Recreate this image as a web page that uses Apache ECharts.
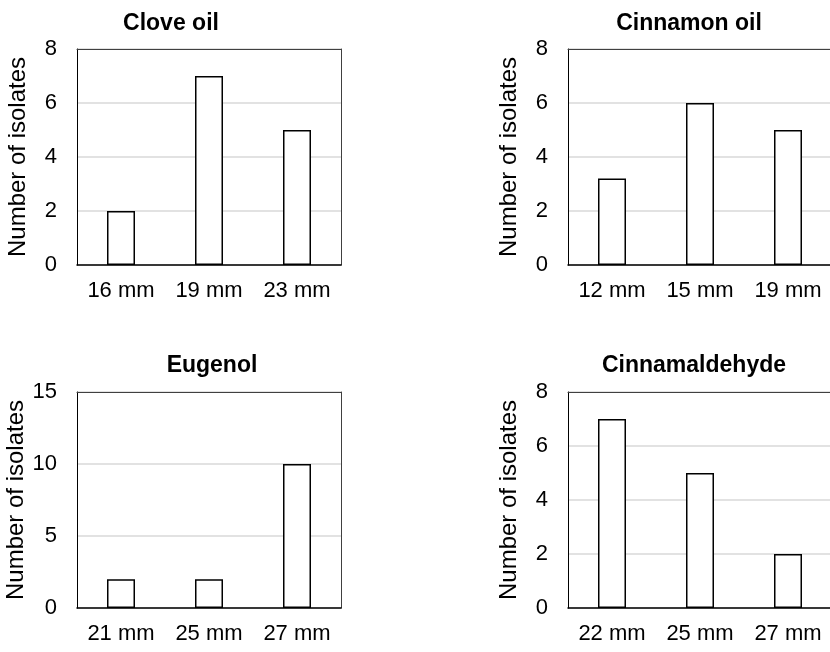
<!DOCTYPE html>
<html>
<head>
<meta charset="utf-8">
<script src="https://cdn.jsdelivr.net/npm/echarts@6/dist/echarts.min.js"></script>
<style>
html,body{margin:0;padding:0;background:#fff;overflow:hidden;}
#c{width:830px;height:652px;}
</style>
</head>
<body>
<div id="c"></div>
<script>
// Data
const titles = ['Clove oil', 'Cinnamon oil', 'Eugenol', 'Cinnamaldehyde'];
const cloveCats = ['16 mm', '19 mm', '23 mm'];
const cloveVals = [2, 7, 5];
const cinnamonCats = ['12 mm', '15 mm', '19 mm'];
const cinnamonVals = [3.2, 6, 5];
const eugenolCats = ['21 mm', '25 mm', '27 mm'];
const eugenolVals = [2, 2, 10];
const cinnamaldehydeCats = ['22 mm', '25 mm', '27 mm'];
const cinnamaldehydeVals = [7, 5, 2];
const yMax = [8, 8, 15, 8];
const yStep = [2, 2, 5, 2];
const yName = 'Number of isolates';

const FONT = "'Liberation Sans', Arial, sans-serif";
const cats = [cloveCats, cinnamonCats, eugenolCats, cinnamaldehydeCats];
const vals = [cloveVals, cinnamonVals, eugenolVals, cinnamaldehydeVals];

const grids = [
  {left: 77, top: 49, width: 264, height: 216},
  {left: 568, top: 49, width: 264, height: 216},
  {left: 77, top: 392, width: 264, height: 216},
  {left: 568, top: 392, width: 264, height: 216}
];
const titlePos = [
  {left: 166, top: 7},
  {left: 684, top: 7},
  {left: 207, top: 349},
  {left: 689, top: 349}
];
const frameColor = '#404040';

const xAxes = cats.map((c, i) => ({
  type: 'category',
  gridIndex: i,
  data: c,
  position: 'bottom',
  axisLine: {show: true, onZero: false, lineStyle: {color: '#000', width: 1.5}},
  axisTick: {show: false},
  axisLabel: {fontFamily: FONT, fontSize: 22, color: '#000', margin: 15, interval: 0},
  splitLine: {show: false}
}));
// top frame lines
cats.forEach((c, i) => xAxes.push({
  type: 'category', gridIndex: i, data: c, position: 'top',
  axisLine: {show: true, onZero: false, lineStyle: {color: frameColor, width: 1}},
  axisTick: {show: false}, axisLabel: {show: false}, splitLine: {show: false}
}));

const yAxes = yMax.map((m, i) => ({
  type: 'value',
  gridIndex: i,
  position: 'left',
  min: 0,
  max: m,
  interval: yStep[i],
  name: yName,
  nameLocation: 'middle',
  nameGap: 47,
  nameTextStyle: {fontFamily: FONT, fontSize: 24, color: '#000'},
  axisLine: {show: true, onZero: false, lineStyle: {color: '#000', width: 1}},
  axisTick: {show: false},
  axisLabel: {fontFamily: FONT, fontSize: 22, color: '#000', margin: 20},
  splitLine: {show: true, lineStyle: {color: '#d9d9d9', width: 1.5}}
}));
// right frame lines for left-column panels (right column is cut off by the image edge)
[0, 2].forEach(i => yAxes.push({
  type: 'value', gridIndex: i, position: 'right', min: 0, max: yMax[i], interval: yStep[i],
  axisLine: {show: true, onZero: false, lineStyle: {color: frameColor, width: 1}},
  axisTick: {show: false}, axisLabel: {show: false}, splitLine: {show: false}
}));

const option = {
  backgroundColor: '#fff',
  animation: false,
  title: titles.map((t, i) => ({
    text: t,
    left: titlePos[i].left,
    top: titlePos[i].top,
    textAlign: 'center',
    textStyle: {fontFamily: FONT, fontSize: 23, fontWeight: 'bold', color: '#000'}
  })),
  grid: grids.map(g => Object.assign({show: false, outerBoundsMode: 'none', containLabel: false}, g)),
  xAxis: xAxes,
  yAxis: yAxes,
  series: vals.map((v, i) => ({
    type: 'bar',
    xAxisIndex: i,
    yAxisIndex: i,
    data: v,
    barWidth: 28,
    z: 3,
    itemStyle: {color: '#fff', borderColor: '#000', borderWidth: 1.5}
  }))
};

const chart = echarts.init(document.getElementById('c'), null, {renderer: 'canvas'});
chart.setOption(option);
</script>
</body>
</html>
